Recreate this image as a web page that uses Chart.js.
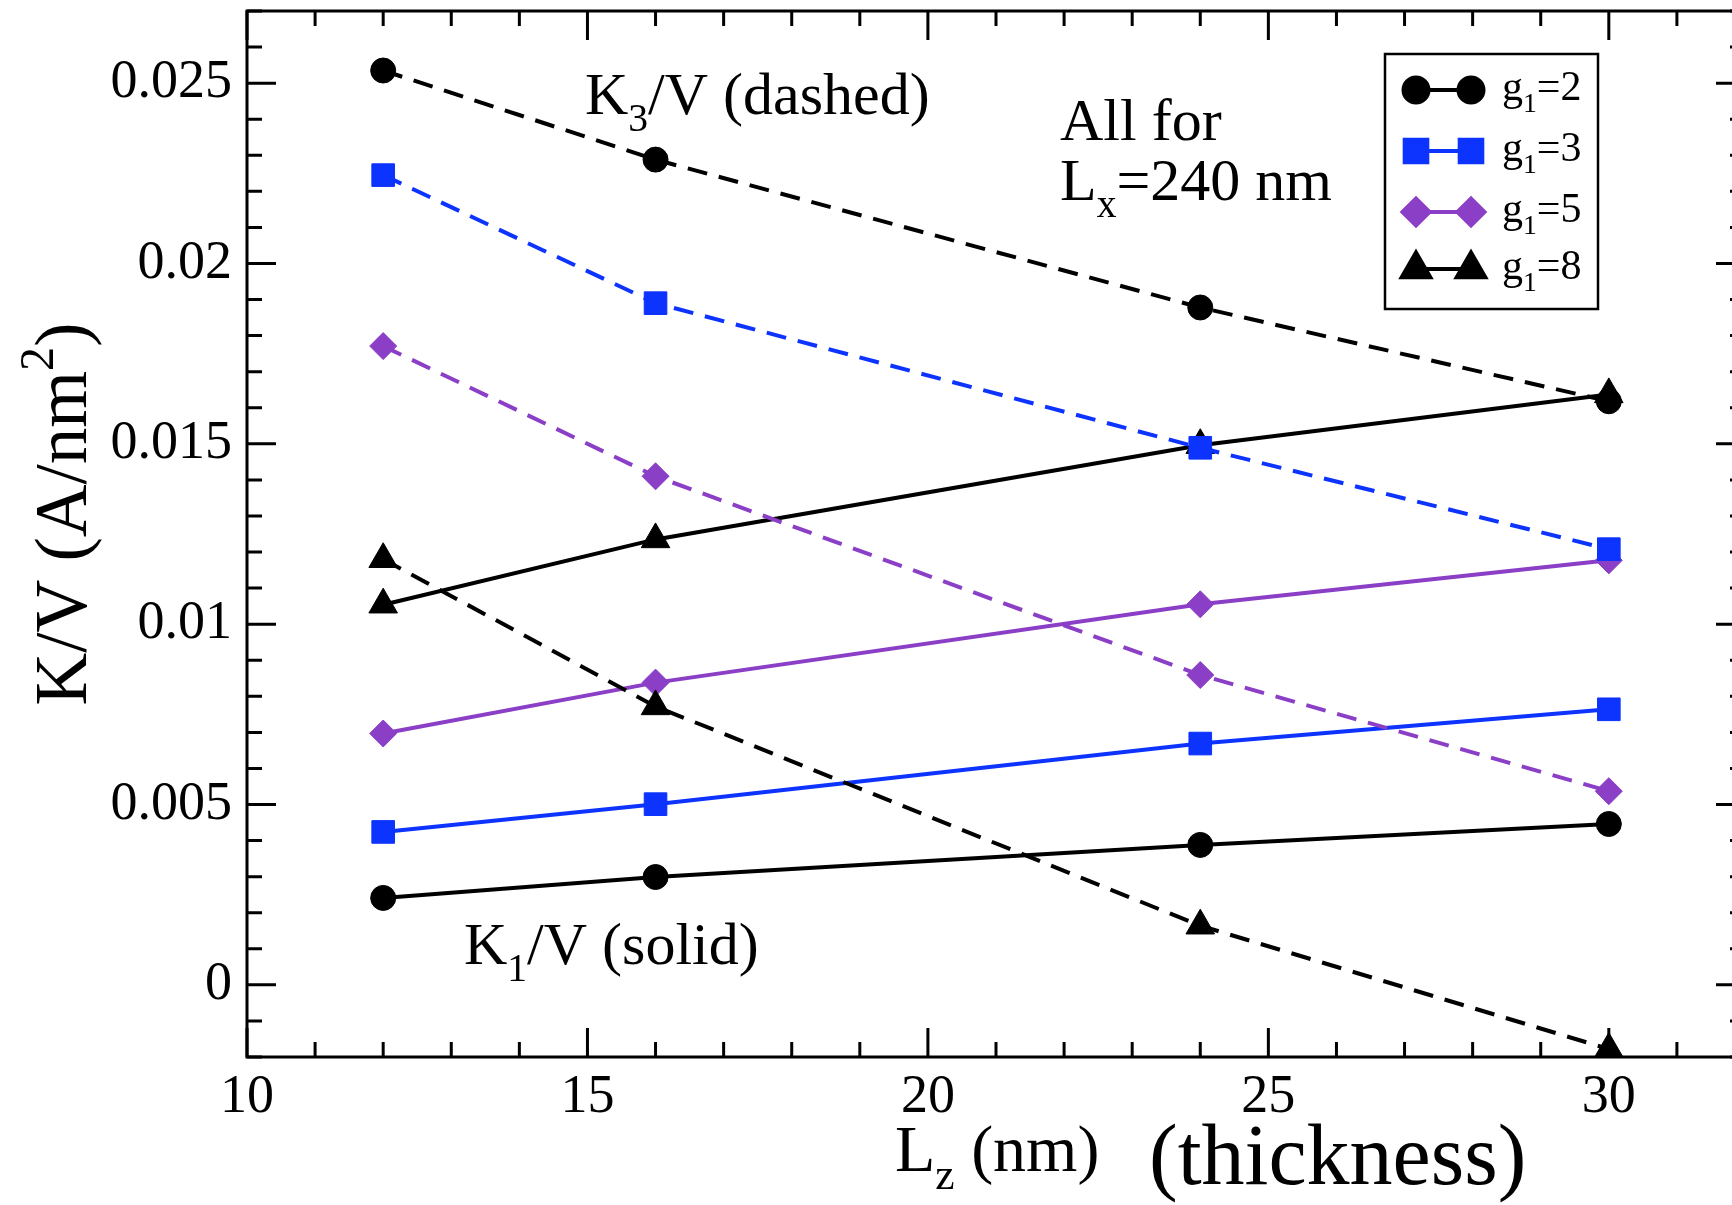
<!DOCTYPE html>
<html>
<head>
<meta charset="utf-8">
<title>K/V vs thickness</title>
<script src="https://cdn.jsdelivr.net/npm/chart.js@4.4.1/dist/chart.umd.min.js"></script>
<style>
  html, body { margin: 0; padding: 0; background: #fff; overflow: hidden; }
  #wrap { position: relative; width: 1760px; height: 1205px; }
  canvas { display: block; }
</style>
</head>
<body>
<div id="wrap"><canvas id="chart" width="1760" height="1205"></canvas></div>
<script>
// Film thickness L_z (nm)
const thickness = [12, 16, 24, 30];

// K1/V (solid lines), A/nm^2
const k1_g2 = [0.00241, 0.00299, 0.00388, 0.00446];
const k1_g3 = [0.00424, 0.00501, 0.00669, 0.00764];
const k1_g5 = [0.00697, 0.00838, 0.01055, 0.01177];
const k1_g8 = [0.01054, 0.01235, 0.01496, 0.01637];

// K3/V (dashed lines), A/nm^2
const k3_g2 = [0.02535, 0.02288, 0.01878, 0.01618];
const k3_g3 = [0.02245, 0.01890, 0.01489, 0.01208];
const k3_g5 = [0.01771, 0.01410, 0.00859, 0.00537];
const k3_g8 = [0.01180, 0.00772, 0.00164, -0.00178];

// g1 values shown in the legend
const g1Values = ['2', '3', '5', '8'];

// Tick labels
const xTickValues = [10, 15, 20, 25, 30];
const yTickValues = [0, 0.005, 0.01, 0.015, 0.02, 0.025];
const yTickLabels = ['0', '0.005', '0.01', '0.015', '0.02', '0.025'];

const FONT = '"Liberation Serif", "Times New Roman", serif';
const BLUE = '#0d33ff';
const PURPLE = '#8a3fc6';
const DASH = [20, 12];

const styles = [
  { color: '#000000', point: 'circle',   radius: 12.5 },
  { color: BLUE,      point: 'rect',     radius: 16 },
  { color: PURPLE,    point: 'rectRot',  radius: 13.5 },
  { color: '#000000', point: 'triangle', radius: 16.5 }
];

function series(values, st, dashed) {
  return {
    data: thickness.map((x, i) => ({ x: x, y: values[i] })),
    borderColor: st.color,
    backgroundColor: st.color,
    borderWidth: 4,
    borderDash: dashed ? DASH : [],
    pointStyle: st.point,
    pointRadius: st.radius,
    pointHoverRadius: st.radius,
    pointBorderWidth: 1,
    pointBorderColor: st.color,
    pointBackgroundColor: st.color,
    tension: 0,
    fill: false,
    clip: false,
    order: dashed ? 0 : 1
  };
}

const datasets = [
  series(k3_g2, styles[0], true),
  series(k3_g3, styles[1], true),
  series(k3_g5, styles[2], true),
  series(k3_g8, styles[3], true),
  series(k1_g2, styles[0], false),
  series(k1_g3, styles[1], false),
  series(k1_g5, styles[2], false),
  series(k1_g8, styles[3], false)
];

// Text with sub/superscript pieces
function richText(ctx, parts, x, y, size, align) {
  let total = 0;
  const items = parts.map(p => {
    const fs = (p.sub || p.sup) ? size * 0.66 : size;
    ctx.font = fs + 'px ' + FONT;
    const w = ctx.measureText(p.t).width;
    total += w;
    return { p, fs, w };
  });
  let cx = align === 'center' ? x - total / 2 : x;
  for (const it of items) {
    ctx.font = it.fs + 'px ' + FONT;
    const dy = it.p.sub ? size * 0.28 : (it.p.sup ? -size * 0.45 : 0);
    ctx.fillText(it.p.t, cx, y + dy);
    cx += it.w;
  }
}

function drawMarker(ctx, st, x, y) {
  Chart.helpers.drawPoint(ctx, { pointStyle: st.point, radius: st.radius, borderWidth: 1, rotation: 0 }, x, y);
}

const framePlugin = {
  id: 'frame',
  afterDraw(chart) {
    const ctx = chart.ctx;
    const a = chart.chartArea;
    const xs = chart.scales.x, ys = chart.scales.y;
    ctx.save();
    ctx.strokeStyle = '#000';
    ctx.fillStyle = '#000';
    ctx.lineWidth = 3;
    ctx.lineCap = 'butt';
    ctx.strokeRect(a.left, a.top, a.right - a.left, a.bottom - a.top);

    // inward tick marks on all four sides
    ctx.beginPath();
    for (let v = xs.min; v <= xs.max; v++) {
      const px = xs.getPixelForValue(v);
      const len = (v % 5 === 0) ? 29 : 15;
      ctx.moveTo(px, a.bottom); ctx.lineTo(px, a.bottom - len);
      ctx.moveTo(px, a.top); ctx.lineTo(px, a.top + len);
    }
    for (let i = -2; i <= 27; i++) {
      const py = ys.getPixelForValue(i / 1000);
      const len = (i % 5 === 0) ? 29 : 15;
      ctx.moveTo(a.left, py); ctx.lineTo(a.left + len, py);
      ctx.moveTo(a.right, py); ctx.lineTo(a.right - len, py);
    }
    ctx.stroke();

    // annotations
    ctx.textAlign = 'left';
    ctx.textBaseline = 'alphabetic';
    richText(ctx, [{ t: 'K' }, { t: '3', sub: true }, { t: '/V (dashed)' }], 585, 114, 60);
    richText(ctx, [{ t: 'All for' }], 1060, 140, 60);
    richText(ctx, [{ t: 'L' }, { t: 'x', sub: true }, { t: '=240 nm' }], 1060, 200, 60);
    richText(ctx, [{ t: 'K' }, { t: '1', sub: true }, { t: '/V (solid)' }], 464, 964, 60);

    // axis titles
    richText(ctx, [{ t: 'L' }, { t: 'z', sub: true }, { t: ' (nm)' }], 895, 1171, 66);
    richText(ctx, [{ t: '(thickness)' }], 1149, 1184, 86);
    ctx.save();
    ctx.translate(86, 514);
    ctx.rotate(-Math.PI / 2);
    richText(ctx, [{ t: 'K/V (A/nm' }, { t: '2', sup: true }, { t: ')' }], 0, 0, 73, 'center');
    ctx.restore();

    // legend
    ctx.lineWidth = 2.5;
    ctx.strokeRect(1385, 54, 213, 255);
    const rows = [90, 151, 212, 269];
    rows.forEach((ry, i) => {
      const st = styles[i];
      ctx.strokeStyle = st.color;
      ctx.fillStyle = st.color;
      ctx.lineWidth = 4;
      ctx.beginPath();
      ctx.moveTo(1416, ry); ctx.lineTo(1471, ry);
      ctx.stroke();
      drawMarker(ctx, st, 1416, ry);
      drawMarker(ctx, st, 1471, ry);
      ctx.fillStyle = '#000';
      richText(ctx, [{ t: 'g' }, { t: '1', sub: true }, { t: '=' + g1Values[i] }], 1502, ry + 10, 42);
    });
    ctx.restore();
  }
};

new Chart(document.getElementById('chart'), {
  type: 'line',
  data: { datasets },
  options: {
    responsive: false,
    devicePixelRatio: 1,
    animation: false,
    events: [],
    layout: { autoPadding: false, padding: { top: 11, right: 15, left: 0, bottom: 0 } },
    plugins: { legend: { display: false }, tooltip: { enabled: false } },
    scales: {
      x: {
        type: 'linear',
        min: 10,
        max: 32,
        grid: { display: false, drawTicks: false },
        border: { display: false },
        afterFit(s) { s.height = 148; s.paddingLeft = 0; s.paddingRight = 0; },
        afterBuildTicks(s) { s.ticks = xTickValues.map(v => ({ value: v })); },
        ticks: {
          padding: 8,
          color: '#000',
          maxRotation: 0,
          font: { family: FONT, size: 54 },
          callback: (v) => String(v)
        }
      },
      y: {
        type: 'linear',
        min: -0.002,
        max: 0.027,
        grid: { display: false, drawTicks: false },
        border: { display: false },
        afterFit(s) { s.width = 247; s.paddingTop = 0; s.paddingBottom = 0; },
        afterBuildTicks(s) { s.ticks = yTickValues.map(v => ({ value: v })); },
        ticks: {
          padding: 15,
          color: '#000',
          font: { family: FONT, size: 54 },
          callback: (v) => {
            const i = yTickValues.findIndex(t => Math.abs(t - v) < 1e-9);
            return i >= 0 ? yTickLabels[i] : '';
          }
        }
      }
    }
  },
  plugins: [framePlugin]
});
</script>
</body>
</html>
